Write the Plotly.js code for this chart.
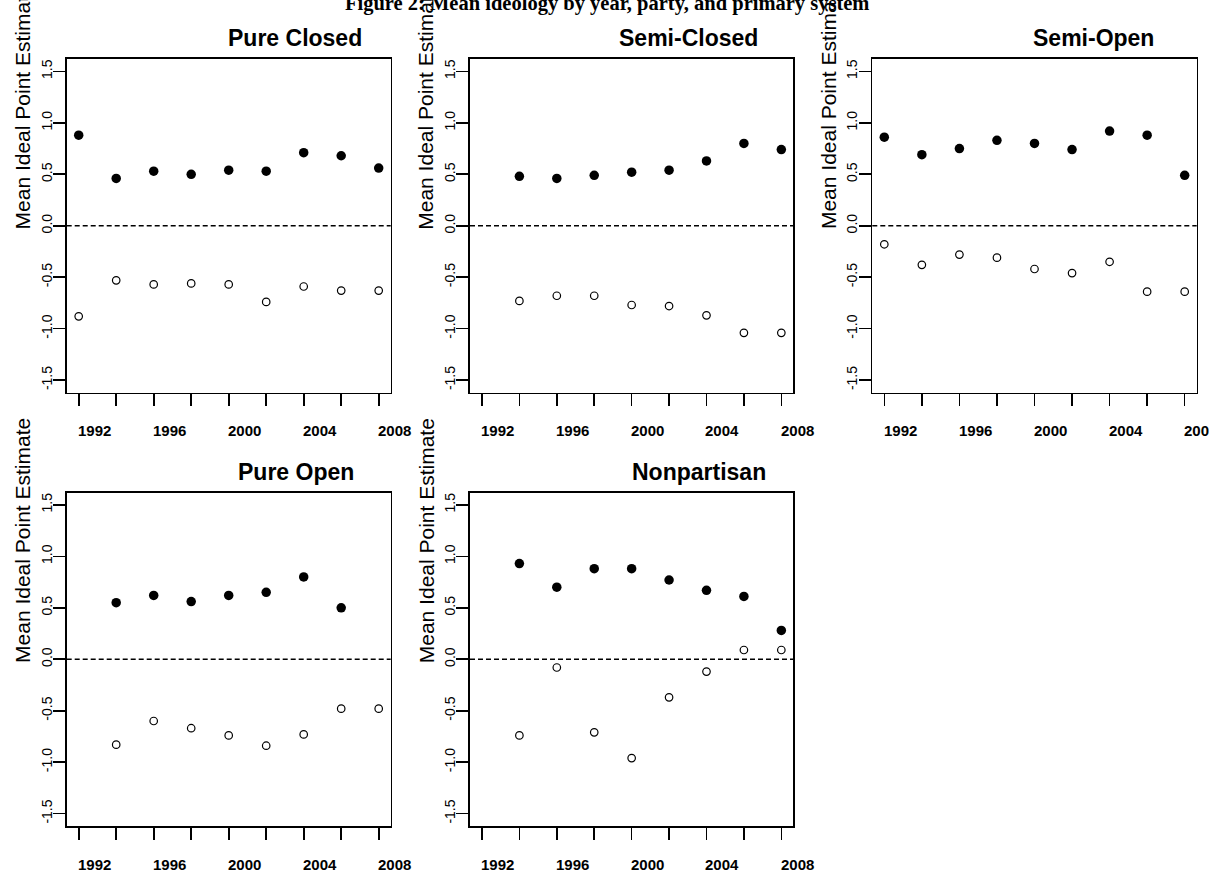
<!DOCTYPE html>
<html>
<head>
<meta charset="utf-8">
<script src="https://cdn.plot.ly/plotly-3.0.1.min.js"></script>
<style>html,body{margin:0;padding:0;background:#fff;}#chart{width:1223px;height:880px;}</style>
</head>
<body>
<div id="chart"></div>
<script>
// ---------------- DATA ----------------
const mainTitle = "Figure 2: Mean ideology by year, party, and primary system";
const yAxisTitle = "Mean Ideal Point Estimate";
const tickYears = [1992, 1994, 1996, 1998, 2000, 2002, 2004, 2006, 2008];
const labelYears = [1992, 1996, 2000, 2004, 2008];
const yTicks = [-1.5, -1.0, -0.5, 0.0, 0.5, 1.0, 1.5];
const panelTitles = ["Pure Closed", "Semi-Closed", "Semi-Open", "Pure Open", "Nonpartisan"];

const pureClosedYears  = [1992, 1994, 1996, 1998, 2000, 2002, 2004, 2006, 2008];
const pureClosedFilled = [0.88, 0.46, 0.53, 0.50, 0.54, 0.53, 0.71, 0.68, 0.56];
const pureClosedOpen   = [-0.88, -0.53, -0.57, -0.56, -0.57, -0.74, -0.59, -0.63, -0.63];

const semiClosedYears  = [1994, 1996, 1998, 2000, 2002, 2004, 2006, 2008];
const semiClosedFilled = [0.48, 0.46, 0.49, 0.52, 0.54, 0.63, 0.80, 0.74];
const semiClosedOpen   = [-0.73, -0.68, -0.68, -0.77, -0.78, -0.87, -1.04, -1.04];

const semiOpenYears  = [1992, 1994, 1996, 1998, 2000, 2002, 2004, 2006, 2008];
const semiOpenFilled = [0.86, 0.69, 0.75, 0.83, 0.80, 0.74, 0.92, 0.88, 0.49];
const semiOpenOpen   = [-0.18, -0.38, -0.28, -0.31, -0.42, -0.46, -0.35, -0.64, -0.64];

const pureOpenFilledYears = [1994, 1996, 1998, 2000, 2002, 2004, 2006];
const pureOpenFilled      = [0.55, 0.62, 0.56, 0.62, 0.65, 0.80, 0.50];
const pureOpenOpenYears   = [1994, 1996, 1998, 2000, 2002, 2004, 2006, 2008];
const pureOpenOpen        = [-0.83, -0.60, -0.67, -0.74, -0.84, -0.73, -0.48, -0.48];

const nonpartisanYears  = [1994, 1996, 1998, 2000, 2002, 2004, 2006, 2008];
const nonpartisanFilled = [0.93, 0.70, 0.88, 0.88, 0.77, 0.67, 0.61, 0.28];
const nonpartisanOpen   = [-0.74, -0.08, -0.71, -0.96, -0.37, -0.12, 0.09, 0.09];

// ---------------- LAYOUT ----------------
const W = 1223, H = 880;
const px = p => p / W;
const py = p => 1 - p / H;

const panels = [
  {title: panelTitles[0], fx: pureClosedYears, fy: pureClosedFilled, ox: pureClosedYears, oy: pureClosedOpen},
  {title: panelTitles[1], fx: semiClosedYears, fy: semiClosedFilled, ox: semiClosedYears, oy: semiClosedOpen},
  {title: panelTitles[2], fx: semiOpenYears, fy: semiOpenFilled, ox: semiOpenYears, oy: semiOpenOpen},
  {title: panelTitles[3], fx: pureOpenFilledYears, fy: pureOpenFilled, ox: pureOpenOpenYears, oy: pureOpenOpen},
  {title: panelTitles[4], fx: nonpartisanYears, fy: nonpartisanFilled, ox: nonpartisanYears, oy: nonpartisanOpen}
];

// pixel boxes: [left, top, right, bottom]
const boxes = [
  [66.7, 59, 390.7, 392.5],
  [470, 59, 793.3, 392.5],
  [872.3, 59, 1196.7, 392.5],
  [66.7, 492.5, 390.7, 826],
  [470, 492.5, 793.3, 826]
];
const titleCenters = [294.5, 688, 1093.5, 296, 699];

const FONT = "Liberation Sans, Arial, Helvetica, sans-serif";
const xRange = [1991.36, 2008.64];
const yRange = [-1.62, 1.62];
const labelOffset = 0.85;

const traces = [];
const layout = {
  width: W, height: H,
  margin: {l: 0, r: 0, t: 0, b: 0},
  paper_bgcolor: "#ffffff",
  plot_bgcolor: "#ffffff",
  showlegend: false,
  hovermode: false,
  annotations: [],
  shapes: []
};

panels.forEach((p, i) => {
  const n = i + 1;
  const xa = n === 1 ? "x" : "x" + n;
  const ya = n === 1 ? "y" : "y" + n;
  const b = boxes[i];

  traces.push({
    type: "scatter", mode: "markers", x: p.fx, y: p.fy, xaxis: xa, yaxis: ya,
    marker: {symbol: "circle", size: 9.5, color: "#000000", line: {width: 0}},
    cliponaxis: false
  });
  traces.push({
    type: "scatter", mode: "markers", x: p.ox, y: p.oy, xaxis: xa, yaxis: ya,
    marker: {symbol: "circle-open", size: 7.5, color: "#000000", line: {width: 1.2, color: "#000000"}},
    cliponaxis: false
  });

  layout["xaxis" + (n === 1 ? "" : n)] = {
    domain: [px(b[0]), px(b[2])],
    anchor: ya,
    range: xRange,
    tickvals: tickYears,
    showticklabels: false,
    ticks: "outside", ticklen: 12, tickwidth: 1.6, tickcolor: "#000",
    showline: true, linecolor: "#000", linewidth: 1.6, mirror: true,
    showgrid: false, zeroline: false, fixedrange: true
  };
  layout["yaxis" + (n === 1 ? "" : n)] = {
    domain: [py(b[3]), py(b[1])],
    anchor: xa,
    range: yRange,
    tickvals: yTicks,
    ticktext: yTicks.map(v => v.toFixed(1)),
    tickangle: -90,
    tickfont: {family: FONT, size: 14, color: "#000"},
    ticklabelstandoff: -4,
    ticks: "outside", ticklen: 12, tickwidth: 1.6, tickcolor: "#000",
    showline: true, linecolor: "#000", linewidth: 1.6, mirror: true,
    showgrid: false, zeroline: false, fixedrange: true
  };

  // year labels, offset from the tick marks as in the reference (positioned on the axis scale)
  labelYears.forEach(yr => {
    layout.annotations.push({
      text: "<b>" + yr + "</b>", xref: xa + " domain", yref: "paper",
      x: (yr + labelOffset - xRange[0]) / (xRange[1] - xRange[0]),
      y: py(b[3] + 38), xanchor: "center", yanchor: "middle",
      showarrow: false, font: {family: FONT, size: 15, color: "#000"}
    });
  });

  // dashed zero reference line
  layout.shapes.push({
    type: "line", xref: xa + " domain", yref: ya,
    x0: 0, x1: 1, y0: 0, y1: 0,
    line: {color: "#000", width: 1.5, dash: "5px,3px"}
  });

  // panel title
  layout.annotations.push({
    text: "<b>" + p.title + "</b>", xref: "paper", yref: "paper",
    x: px(titleCenters[i]), y: py(b[1] - 21), xanchor: "center", yanchor: "middle",
    showarrow: false, font: {family: FONT, size: 23, color: "#000"}
  });
  // y axis title
  layout.annotations.push({
    text: yAxisTitle, xref: "paper", yref: "paper",
    x: px(b[0] - 44), y: py((b[1] + b[3]) / 2 - 119), xanchor: "center", yanchor: "middle",
    textangle: -90, showarrow: false, font: {family: FONT, size: 21, color: "#000"}
  });
});

// main title (cropped at top in reference)
layout.annotations.push({
  text: "<b>" + mainTitle + "</b>", xref: "paper", yref: "paper",
  x: px(607), y: py(17), xanchor: "center", yanchor: "bottom",
  showarrow: false, font: {family: "Liberation Serif, Times New Roman, serif", size: 20.5, color: "#000"}
});

// the reference image is cropped at its right edge (last year label cut): white mask drawn over labels
layout.annotations.push({
  text: " ", xref: "paper", yref: "paper",
  x: px(1209), y: py(431), xanchor: "left", yanchor: "middle",
  width: 20, height: 30, bgcolor: "#ffffff", borderpad: 0, borderwidth: 0,
  showarrow: false, font: {size: 10}
});

Plotly.newPlot("chart", traces, layout, {staticPlot: true, displayModeBar: false});
</script>
</body>
</html>
